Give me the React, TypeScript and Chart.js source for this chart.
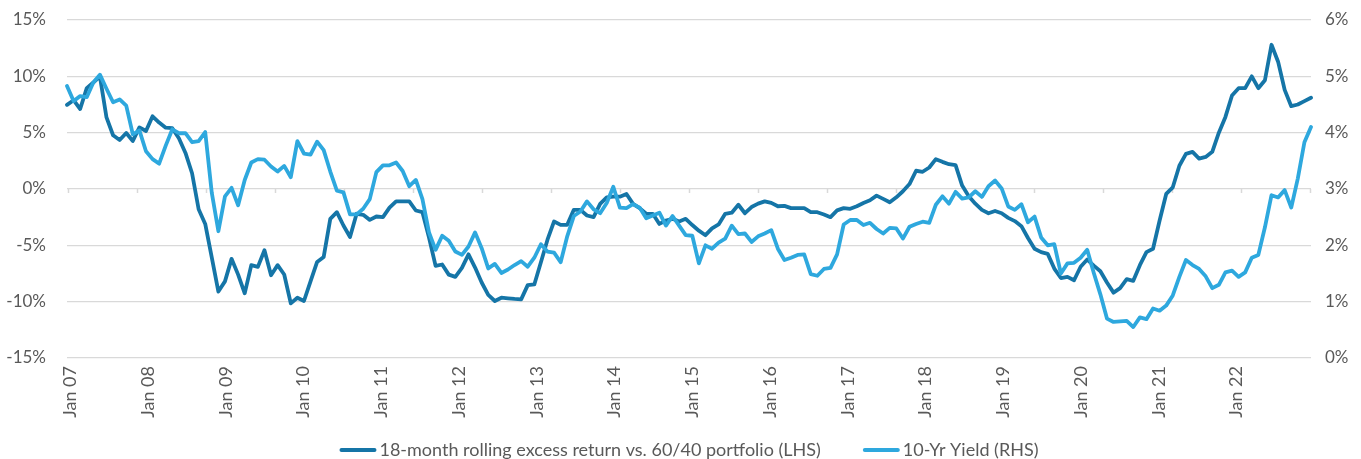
import React, { useEffect, useRef } from "react";
import { Chart, registerables } from "chart.js";

Chart.register(...registerables);

const years = ["07", "08", "09", "10", "11", "12", "13", "14", "15", "16", "17", "18", "19", "20", "21", "22"];
const monthNames = ["Jan", "Feb", "Mar", "Apr", "May", "Jun", "Jul", "Aug", "Sep", "Oct", "Nov", "Dec"];
const lastMonthIndex = 189; // Jan 07 .. Oct 22
const labelSlots = 192; // label axis spans Jan 07 .. Dec 22 (between tick marks)

const categories: string[] = [];
years.forEach((y) => monthNames.forEach((m) => categories.push(`${m} ${y}`)));
categories.length = lastMonthIndex + 1;

const yearLabels = years.map((y) => `Jan ${y}`);

// 18-month rolling excess return vs. 60/40 portfolio (%, LHS)
const excessReturn = [
  7.47, 7.88, 7.1, 8.95, 9.45, 10.0, 6.35, 4.77, 4.35, 4.97, 4.26, 5.47,
  5.15, 6.45, 5.9, 5.44, 5.4, 4.5, 3.2, 1.4, -1.8, -3.1, -6.1, -9.1,
  -8.2, -6.2, -7.6, -9.26, -6.76, -6.91, -5.44, -7.65, -6.76, -7.59, -10.15, -9.65,
  -9.94, -8.2, -6.47, -6.03, -2.65, -2.06, -3.24, -4.26, -2.2, -2.29, -2.74, -2.44,
  -2.5, -1.65, -1.09, -1.09, -1.09, -1.91, -2.06, -4.3, -6.82, -6.7, -7.6, -7.8,
  -7.0, -5.8, -6.97, -8.3, -9.4, -9.94, -9.65, -9.7, -9.76, -9.8, -8.53, -8.47,
  -6.5, -4.5, -2.88, -3.18, -3.18, -1.85, -1.85, -2.35, -2.5, -1.32, -0.74, -0.68,
  -0.68, -0.44, -1.32, -1.7, -2.2, -2.2, -3.1, -2.8, -2.65, -2.88, -2.65, -3.2,
  -3.7, -4.1, -3.5, -3.15, -2.2, -2.1, -1.4, -2.15, -1.6, -1.3, -1.1, -1.23,
  -1.53, -1.5, -1.7, -1.7, -1.7, -2.06, -2.06, -2.26, -2.5, -1.9, -1.7, -1.76,
  -1.53, -1.24, -1.0, -0.59, -0.88, -1.18, -0.74, -0.2, 0.44, 1.62, 1.53, 1.91,
  2.65, 2.41, 2.2, 2.12, 0.3, -0.65, -1.3, -1.85, -2.15, -1.95, -2.15, -2.56,
  -2.85, -3.3, -4.35, -5.3, -5.6, -5.76, -7.06, -7.9, -7.8, -8.1, -6.9, -6.26,
  -6.8, -7.3, -8.3, -9.2, -8.8, -8.0, -8.15, -6.76, -5.6, -5.3, -2.8, -0.44,
  0.15, 2.06, 3.12, 3.3, 2.7, 2.85, 3.3, 5.0, 6.4, 8.3, 8.95, 8.95,
  10.0, 8.95, 9.65, 12.8, 11.3, 8.8, 7.35, 7.5, 7.8, 8.1,
];

// 10-Yr Yield (%, RHS)
const tenYearYield = [
  4.83, 4.56, 4.65, 4.63, 4.89, 5.03, 4.78, 4.54, 4.59, 4.48, 3.97, 4.04,
  3.67, 3.53, 3.45, 3.77, 4.06, 3.99, 3.99, 3.83, 3.85, 4.01, 2.93, 2.25,
  2.87, 3.02, 2.71, 3.16, 3.47, 3.53, 3.52, 3.4, 3.31, 3.41, 3.21, 3.85,
  3.63, 3.61, 3.84, 3.69, 3.31, 2.97, 2.94, 2.55, 2.55, 2.65, 2.82, 3.3,
  3.42, 3.42, 3.47, 3.32, 3.05, 3.16, 2.82, 2.23, 1.92, 2.17, 2.08, 1.89,
  1.83, 1.98, 2.23, 1.95, 1.59, 1.67, 1.51, 1.57, 1.65, 1.72, 1.62, 1.78,
  2.02, 1.89, 1.87, 1.7, 2.16, 2.52, 2.6, 2.78, 2.64, 2.57, 2.75, 3.04,
  2.67, 2.66, 2.73, 2.67, 2.48, 2.53, 2.58, 2.35, 2.52, 2.35, 2.18, 2.17,
  1.68, 2.0, 1.94, 2.05, 2.12, 2.35, 2.2, 2.21, 2.06, 2.16, 2.21, 2.27,
  1.94, 1.74, 1.78, 1.83, 1.84, 1.49, 1.46, 1.58, 1.6, 1.84, 2.37, 2.45,
  2.45, 2.36, 2.4, 2.29, 2.21, 2.31, 2.3, 2.12, 2.33, 2.38, 2.42, 2.4,
  2.72, 2.87, 2.74, 2.95, 2.83, 2.85, 2.96, 2.86, 3.05, 3.15, 3.01, 2.69,
  2.63, 2.73, 2.41, 2.51, 2.14, 2.0, 2.02, 1.5, 1.68, 1.69, 1.78, 1.92,
  1.51, 1.13, 0.7, 0.64, 0.65, 0.66, 0.55, 0.72, 0.69, 0.88, 0.84, 0.93,
  1.11, 1.44, 1.74, 1.65, 1.58, 1.45, 1.24, 1.3, 1.52, 1.55, 1.44, 1.52,
  1.78, 1.83, 2.32, 2.89, 2.85, 2.98, 2.67, 3.19, 3.83, 4.1,
];

const seriesNames = ["18-month rolling excess return vs. 60/40 portfolio (LHS)", "10-Yr Yield (RHS)"];
const leftTicks = { min: -15, max: 15, step: 5 };
const rightTicks = { min: 0, max: 6, step: 1 };
const axisTickMarkCount = 19;

const DARK = "#1575A7";
const LIGHT = "#2EA8DE";
const GRID = "#D9D9D9";
const TEXT = "#595959";
const FONT = "Lato, 'Noto Sans', sans-serif";

const zeroTicksPlugin = {
  id: "zeroTicks",
  beforeDatasetsDraw(chart: any) {
    const { ctx, chartArea } = chart;
    const y = chart.scales.y.getPixelForValue(0);
    ctx.save();
    ctx.strokeStyle = GRID;
    ctx.lineWidth = 1.5;
    for (let k = 0; k < axisTickMarkCount; k++) {
      const x = chartArea.left + 1 + ((chartArea.right - chartArea.left - 2) * k) / (axisTickMarkCount - 1);
      ctx.beginPath();
      ctx.moveTo(Math.round(x) + 0.5, y);
      ctx.lineTo(Math.round(x) + 0.5, y + 4);
      ctx.stroke();
    }
    ctx.restore();
  },
};

const bottomLegendPlugin = {
  id: "bottomLegend",
  afterDraw(chart: any) {
    const { ctx, chartArea } = chart;
    const ds = chart.data.datasets;
    const sw = 37;
    const gap = 3;
    const itemGap = 42;
    ctx.save();
    ctx.font = `18px ${FONT}`;
    ctx.textBaseline = "middle";
    ctx.textAlign = "left";
    const order = [0, 1];
    const widths = order.map((i) => ctx.measureText(ds[i].label).width);
    const total = widths.reduce((a: number, w: number) => a + sw + gap + w, 0) + itemGap;
    let x = (chartArea.left + chartArea.right) / 2 - total / 2;
    const y = 450;
    order.forEach((i, k) => {
      ctx.strokeStyle = ds[i].borderColor;
      ctx.lineWidth = 4;
      ctx.lineCap = "round";
      ctx.beginPath();
      ctx.moveTo(x + 2, y);
      ctx.lineTo(x + sw - 2, y);
      ctx.stroke();
      ctx.fillStyle = TEXT;
      ctx.fillText(ds[i].label, x + sw + gap, y);
      x += sw + gap + widths[k] + itemGap;
    });
    ctx.restore();
  },
};

export default function App() {
  const ref = useRef<HTMLCanvasElement>(null);

  useEffect(() => {
    if (!ref.current) return;
    const noOverflow = (s: any) => {
      s.paddingTop = 0;
      s.paddingBottom = 0;
    };
    const chart = new Chart(ref.current, {
      type: "line",
      data: {
        labels: categories,
        datasets: [
          {
            label: seriesNames[0],
            data: excessReturn,
            xAxisID: "x",
            yAxisID: "y",
            borderColor: DARK,
            backgroundColor: DARK,
            borderWidth: 3.8,
            pointRadius: 0,
            tension: 0,
            borderJoinStyle: "round",
            borderCapStyle: "round",
            order: 1,
          },
          {
            label: seriesNames[1],
            data: tenYearYield,
            xAxisID: "x",
            yAxisID: "y2",
            borderColor: LIGHT,
            backgroundColor: LIGHT,
            borderWidth: 3.8,
            pointRadius: 0,
            tension: 0,
            borderJoinStyle: "round",
            borderCapStyle: "round",
            order: 0,
          },
        ],
      },
      options: {
        responsive: false,
        animation: false,
        layout: { padding: { top: 20, left: 0, right: 0, bottom: 0 } },
        plugins: {
          legend: { display: false },
          tooltip: { enabled: false },
        },
        scales: {
          x: {
            type: "category",
            display: false,
          },
          xl: {
            type: "linear",
            position: "bottom",
            min: 0,
            max: labelSlots,
            grid: { display: false, drawTicks: false },
            border: { display: false },
            afterBuildTicks: (axis: any) => {
              axis.ticks = yearLabels.map((_, k) => ({ value: 12 * k + 0.5 }));
            },
            ticks: {
              autoSkip: false,
              minRotation: 90,
              maxRotation: 90,
              padding: 8,
              color: TEXT,
              font: { family: FONT, size: 18 },
              callback: (v: any) => yearLabels[Math.round((Number(v) - 0.5) / 12)],
            },
            afterFit: (s: any) => {
              s.height = 101;
            },
          },
          y: {
            position: "left",
            min: leftTicks.min,
            max: leftTicks.max,
            grid: { color: GRID, lineWidth: 1.3, drawTicks: false },
            border: { display: false },
            ticks: {
              stepSize: leftTicks.step,
              padding: 21,
              color: TEXT,
              font: { family: FONT, size: 17 },
              callback: (v: any) => `${v}%`,
            },
            afterFit: (s: any) => {
              s.width = 67;
              noOverflow(s);
            },
          },
          y2: {
            position: "right",
            min: rightTicks.min,
            max: rightTicks.max,
            grid: { display: false, drawTicks: false },
            border: { display: false },
            ticks: {
              stepSize: rightTicks.step,
              padding: 14,
              color: TEXT,
              font: { family: FONT, size: 17 },
              callback: (v: any) => `${v}%`,
            },
            afterFit: (s: any) => {
              s.width = 50;
              noOverflow(s);
            },
          },
        },
      },
      plugins: [zeroTicksPlugin, bottomLegendPlugin],
    });
    return () => chart.destroy();
  }, []);

  return (
    <div style={{ position: "absolute", left: 0, top: 0, width: 1361, height: 459, background: "#fff" }}>
      <canvas ref={ref} width={1361} height={459} style={{ display: "block", width: 1361, height: 459 }} />
    </div>
  );
}
